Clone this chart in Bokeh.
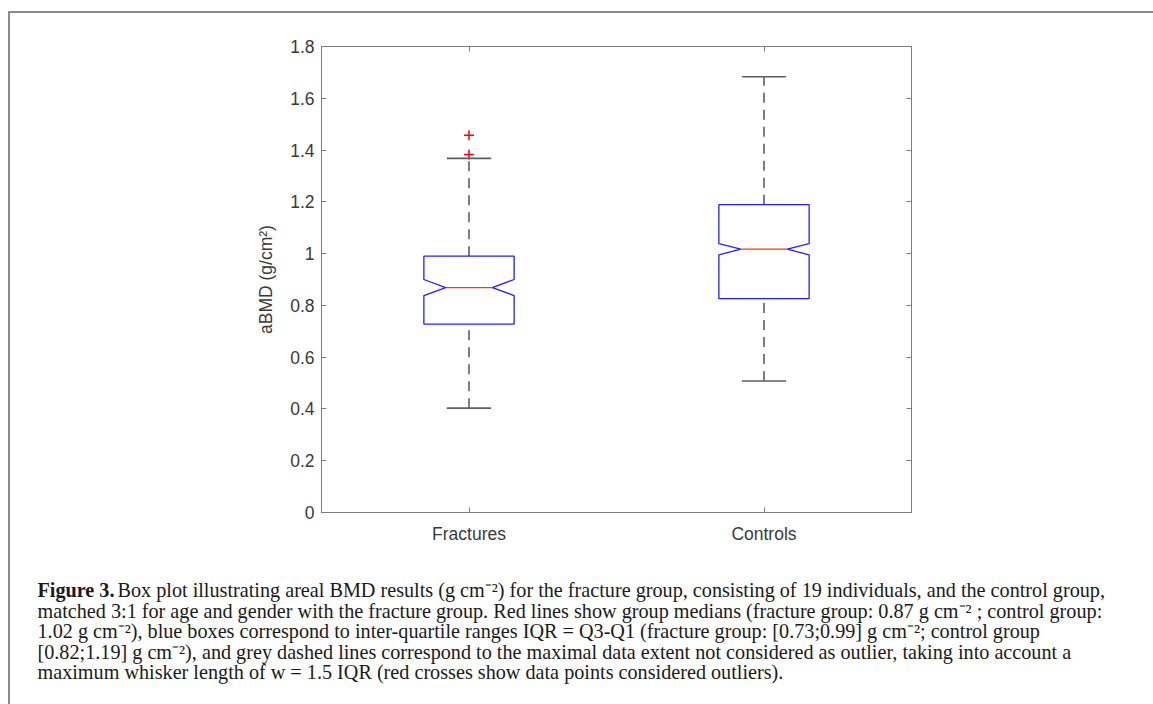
from bokeh.plotting import figure
from bokeh.layouts import column, row
from bokeh.models import (Range1d, FixedTicker, LinearAxis, CustomJSTickFormatter,
                          ColumnDataSource)
from bokeh.core.properties import value
from bokeh.embed import file_html
from bokeh.resources import INLINE

# ---------------- data ----------------
groups = ["Fractures", "Controls"]
positions = [1, 2]
q1 = [0.728, 0.826]
q3 = [0.990, 1.189]
medians = [0.869, 1.017]
notch_lo = [0.838, 0.995]
notch_hi = [0.900, 1.039]
whisker_lo = [0.403, 0.508]
whisker_hi = [1.368, 1.683]
outlier_pos = [1, 1]
outlier_values = [1.383, 1.457]
y_ticks = [0, 0.2, 0.4, 0.6, 0.8, 1.0, 1.2, 1.4, 1.6, 1.8]
y_label = "aBMD (g/cm²)"
caption_bold = "Figure 3."
caption_lines = [
    "Box plot illustrating areal BMD results (g cm⁻²) for the fracture group, consisting of 19 individuals, and the control group,",
    "matched 3:1 for age and gender with the fracture group. Red lines show group medians (fracture group: 0.87 g cm⁻² ; control group:",
    "1.02 g cm⁻²), blue boxes correspond to inter-quartile ranges IQR = Q3-Q1 (fracture group: [0.73;0.99] g cm⁻²; control group",
    "[0.82;1.19] g cm⁻²), and grey dashed lines correspond to the maximal data extent not considered as outlier, taking into account a",
    "maximum whisker length of w = 1.5 IQR (red crosses show data points considered outliers).",
]

# ---------------- style ----------------
BOX_HW = 0.153
NOTCH_HW = 0.079
CAP_HW = 0.075
AX_COL = "#7d7d7d"
TXT_COL = "#3a3a3a"
WHISK_COL = "#5e5e5e"
SANS = "Liberation Sans"
SERIF = "Liberation Serif"

OX, OY = 10, 13          # page position of the content (inside the border)
CW = 1153 - OX
CHART_H = 555 - OY
CAP_H = 704 - 555

p = figure(width=CW, height=CHART_H, output_backend="svg", toolbar_location=None,
           x_range=Range1d(0.5, 2.5), y_range=Range1d(0, 1.8),
           min_border_left=321 - OX, min_border_right=1153 - 911,
           min_border_top=46 - OY, min_border_bottom=555 - 512)
p.grid.visible = False
p.outline_line_color = AX_COL
p.outline_line_width = 1
p.border_fill_color = "white"

ya = p.yaxis[0]
ya.ticker = FixedTicker(ticks=y_ticks)
ya.formatter = CustomJSTickFormatter(code="return String(Math.round(tick*10)/10)")
ya.major_tick_in = 5
ya.major_tick_out = 0
ya.minor_tick_line_color = None
ya.axis_line_color = AX_COL
ya.major_tick_line_color = AX_COL
ya.major_label_text_font = SANS
ya.major_label_text_font_size = "17.5px"
ya.major_label_text_color = TXT_COL
ya.major_label_standoff = 7
ya.axis_label = y_label
ya.axis_label_text_font = SANS
ya.axis_label_text_font_size = "17.5px"
ya.axis_label_text_font_style = "normal"
ya.axis_label_text_color = TXT_COL
ya.axis_label_standoff = 11

xa = p.xaxis[0]
xa.ticker = FixedTicker(ticks=positions)
xa.major_label_overrides = {pos: g for pos, g in zip(positions, groups)}
xa.major_tick_in = 5
xa.major_tick_out = 0
xa.minor_tick_line_color = None
xa.axis_line_color = AX_COL
xa.major_tick_line_color = AX_COL
xa.major_label_text_font = SANS
xa.major_label_text_font_size = "17.5px"
xa.major_label_text_color = TXT_COL
xa.major_label_standoff = 11

ra = LinearAxis(ticker=FixedTicker(ticks=y_ticks), major_tick_in=5, major_tick_out=0,
                minor_tick_line_color=None, axis_line_color=AX_COL,
                major_tick_line_color=AX_COL, major_label_text_color=None)
p.add_layout(ra, "right")
ta = LinearAxis(ticker=FixedTicker(ticks=positions), major_tick_in=5, major_tick_out=0,
                minor_tick_line_color=None, axis_line_color=AX_COL,
                major_tick_line_color=AX_COL, major_label_text_color=None)
p.add_layout(ta, "above")

xs, ys = [], []
for c, a, b, m, nl, nh in zip(positions, q1, q3, medians, notch_lo, notch_hi):
    xs.append([c - BOX_HW, c - BOX_HW, c - NOTCH_HW, c - BOX_HW, c - BOX_HW,
               c + BOX_HW, c + BOX_HW, c + NOTCH_HW, c + BOX_HW, c + BOX_HW])
    ys.append([a, nl, m, nh, b, b, nh, m, nl, a])

wx0 = positions + positions
p.segment(x0=wx0, y0=q3 + whisker_lo, x1=wx0, y1=whisker_hi + q1,
          line_color=WHISK_COL, line_width=1.6, line_dash="10 7")
cy = whisker_hi + whisker_lo
p.segment(x0=[c - CAP_HW for c in positions] * 2, y0=cy,
          x1=[c + CAP_HW for c in positions] * 2, y1=cy,
          line_color=WHISK_COL, line_width=1.6)
p.patches(xs=xs, ys=ys, fill_color=None, line_color="#2020ff", line_width=1.3)
p.segment(x0=[c - NOTCH_HW for c in positions], y0=medians,
          x1=[c + NOTCH_HW for c in positions], y1=medians,
          line_color="#ff3030", line_width=1.3)
p.scatter(x=outlier_pos, y=outlier_values, marker="cross", size=10,
          line_color="#ff0000", line_width=1.5)

# ---------------- caption figure ----------------
cap = figure(width=CW, height=CAP_H, output_backend="svg", toolbar_location=None,
             x_range=Range1d(0, CW), y_range=Range1d(CAP_H, 0),
             x_axis_type=None, y_axis_type=None,
             min_border_left=0, min_border_right=0, min_border_top=0, min_border_bottom=0)
cap.grid.visible = False
cap.outline_line_color = None
cap.border_fill_color = "white"

baselines = [589.5, 610, 630.5, 651, 671]
starts = [117, 37, 37, 37, 37]
CAP_SIZE = "20.2px"
cap.text(x=[37 - OX], y=[baselines[0] - 555], text=[caption_bold],
         text_font=value(SERIF), text_font_size=CAP_SIZE, text_font_style="bold",
         text_color="#1a1a1a", text_baseline="alphabetic", text_align="left")
src = ColumnDataSource(dict(x=[s - OX for s in starts],
                            y=[b - 555 for b in baselines], text=caption_lines))
cap.text(x="x", y="y", text="text", source=src, text_font=value(SERIF),
         text_font_size=CAP_SIZE, text_color="#1a1a1a",
         text_baseline="alphabetic", text_align="left")

layout = column(p, row(cap), spacing=0,
                styles={"border-top": "2px solid #8a8a8a",
                        "border-left": "2px solid #8a8a8a",
                        "margin-left": "8px", "margin-top": "11px"})

open("out.html", "w").write(file_html(layout, INLINE))
